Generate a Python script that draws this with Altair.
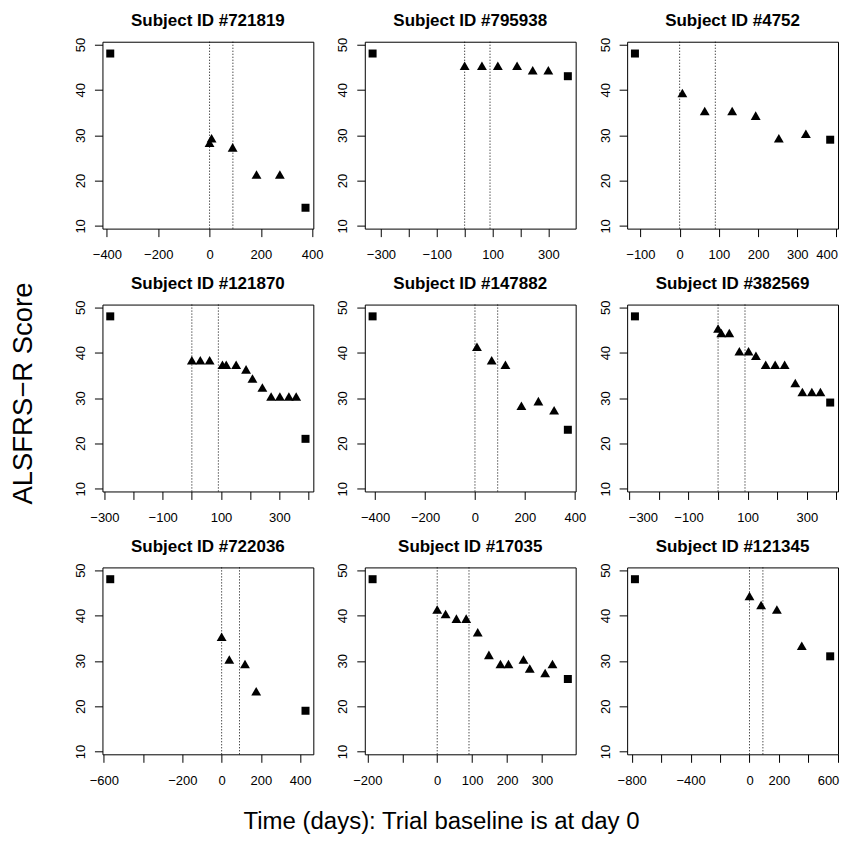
import altair as alt
import pandas as pd

subjects = ["721819", "795938", "4752", "121870", "147882", "382569", "722036", "17035", "121345"]

# first (square) and last (square) observations per subject
first_day = [-387, -330, -114, -280, -410, -281, -567, -185, -778]
first_score = [48, 48, 48, 48, 48, 48, 48, 48, 48]
last_day = [374, 370, 384, 390, 372, 379, 427, 374, 548]
last_score = [14, 43, 29, 21, 23, 29, 19, 26, 31]

# trial visits (triangles)
tri_days = [
    [0, 8, 90, 183, 274],
    [0, 62, 119, 188, 244, 300],
    [7, 64, 134, 194, 253, 322],
    [0, 29, 61, 105, 118, 152, 186, 208, 242, 272, 302, 333, 358],
    [8, 67, 122, 186, 254, 317],
    [0, 11, 38, 72, 103, 128, 161, 193, 225, 261, 285, 317, 346],
    [0, 39, 119, 176],
    [0, 24, 55, 83, 116, 148, 181, 204, 247, 265, 309, 330],
    [0, 79, 186, 355],
]
tri_scores = [
    [28, 29, 27, 21, 21],
    [45, 45, 45, 45, 44, 44],
    [39, 35, 35, 34, 29, 30],
    [38, 38, 38, 37, 37, 37, 36, 34, 32, 30, 30, 30, 30],
    [41, 38, 37, 28, 29, 27],
    [45, 44, 44, 40, 40, 39, 37, 37, 37, 33, 31, 31, 31],
    [35, 30, 29, 23],
    [41, 40, 39, 39, 36, 31, 29, 29, 30, 28, 27, 29],
    [44, 42, 41, 33],
]

ref_days = [0, 91]

x_ticks = [
    [-400, -200, 0, 200, 400],
    [-300, -200, -100, 0, 100, 200, 300],
    [-100, 0, 100, 200, 300, 400],
    [-300, -200, -100, 0, 100, 200, 300, 400],
    [-400, -200, 0, 200, 400],
    [-300, -200, -100, 0, 100, 200, 300, 400],
    [-600, -400, -200, 0, 200, 400],
    [-200, -100, 0, 100, 200, 300],
    [-800, -600, -400, -200, 0, 200, 400, 600],
]
x_labels = [
    [-400, -200, 0, 200, 400],
    [-300, -100, 100, 300],
    [-100, 0, 100, 200, 300, 400],
    [-300, -100, 100, 300],
    [-400, -200, 0, 200, 400],
    [-300, -100, 100, 300],
    [-600, -200, 0, 200, 400],
    [-200, 0, 100, 200, 300],
    [-800, -400, 0, 200, 600],
]
y_ticks = [10, 20, 30, 40, 50]

FONT = "Liberation Sans"
TRI = "M0,-1L0.866,0.5L-0.866,0.5Z"
W, H = 211, 187
COL_GAP, ROW_GAP = 51.5, 76


def panel(i):
    xmin, xmax = first_day[i], last_day[i]
    r = xmax - xmin
    dom = [xmin - 0.04 * r, xmax + 0.04 * r]
    shown = "[" + ",".join(str(v) for v in x_labels[i]) + "]"
    xaxis_args = dict(
        values=x_ticks[i],
        labelExpr=f"indexof({shown}, datum.value) >= 0 ? datum.label : ''",
        title=None,
    )
    if i % 3 == 2:
        xaxis_args.update(labelFlush=3, labelFlushOffset=1)
    if i == 7:
        xaxis_args.update(
            title="Time (days): Trial baseline is at day 0",
            titleX=76.3,
            titleY=74.6,
            titleBaseline="alphabetic",
            titleAlign="center",
        )
    yaxis_args = dict(values=y_ticks, title=None)
    if i == 0:
        yaxis_args.update(
            title="ALSFRS\u2212R Score",
            titleX=-78.7,
            titleY=H + ROW_GAP + 88.5,
            titleAngle=270,
            titleAlign="center",
            titleBaseline="middle",
            titleFontSize=27.5,
        )
    X = alt.X("day:Q", scale=alt.Scale(domain=dom, nice=False, zero=False), axis=alt.Axis(**xaxis_args))
    Y = alt.Y("score:Q", scale=alt.Scale(domain=[9.4, 50.6], nice=False, zero=False), axis=alt.Axis(**yaxis_args))

    df_ref = pd.DataFrame({"day": ref_days})
    df_sq = pd.DataFrame({"day": [first_day[i], last_day[i]], "score": [first_score[i], last_score[i]]})
    df_tri = pd.DataFrame({"day": tri_days[i], "score": tri_scores[i]})

    rules = alt.Chart(df_ref).mark_rule(color="black", strokeDash=[1, 2], strokeWidth=1).encode(x=X)
    squares = alt.Chart(df_sq).mark_point(shape="square", filled=True, color="black", size=64, opacity=1).encode(x=X, y=Y)
    tris = alt.Chart(df_tri).mark_point(shape=TRI, filled=True, color="black", size=130, opacity=1).encode(x=X, y=Y)

    return alt.layer(rules, squares, tris).properties(
        width=W,
        height=H,
        title=alt.TitleParams(
            f"Subject ID #{subjects[i]}",
            font=FONT,
            fontSize=17,
            fontWeight="bold",
            color="black",
            anchor="middle",
            frame="group",
            baseline="alphabetic",
            offset=14,
            dy=20,
        ),
    )


chart = alt.concat(
    *[panel(i) for i in range(9)],
    columns=3,
    spacing=alt.RowColnumber(row=ROW_GAP, column=COL_GAP),
    bounds="flush",
).properties(
    padding={"left": 0.5, "top": 2.5, "right": 0, "bottom": 0},
    background="white",
).configure_view(
    stroke="black", strokeWidth=1
).configure_axis(
    domain=False,
    grid=False,
    ticks=True,
    tickColor="black",
    tickSize=8,
    tickWidth=1,
    labelFont=FONT,
    labelFontSize=13,
    labelColor="black",
    labelFlush=False,
    labelOverlap=False,
    labelBound=False,
    titleFont=FONT,
    titleFontSize=24,
    titleFontWeight="normal",
    titleColor="black",
).configure_axisX(
    labelPadding=12,
).configure_axisY(
    labelAngle=270,
    labelAlign="center",
    labelBaseline="bottom",
    labelPadding=7,
)

chart.save("out.html", embed_options={"renderer": "svg", "actions": False})
